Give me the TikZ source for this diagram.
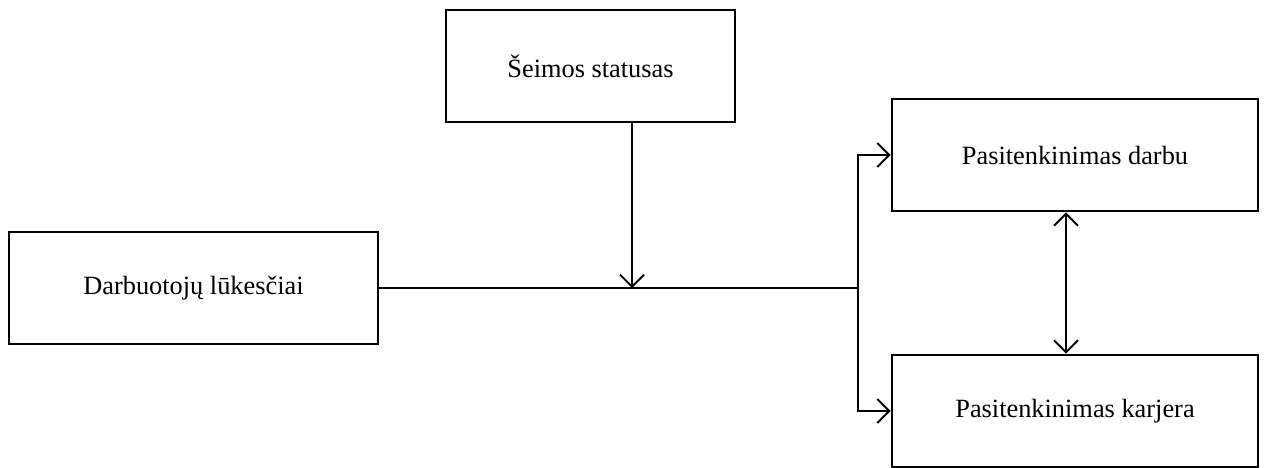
\documentclass[tikz,border=0pt]{standalone}
\usepackage{fontspec}
\setmainfont{Liberation Serif}
\usetikzlibrary{arrows.meta}

\begin{document}
\begin{tikzpicture}[x=0.02cm,y=-0.02cm,
    >={Straight Barb[length=0.24cm,width=0.48cm,line width=1.1pt]},
    every node/.style={draw,line width=1.6pt,minimum height=2.24cm,inner sep=2pt,font=\fontsize{15}{18}\selectfont},
    strele/.style={line width=1.1pt,->},
    linija/.style={line width=1.1pt}]
      \useasboundingbox (0,0) rectangle (1268,467);
      % Blokai
      \node[minimum width=5.78cm] (seimos) at (590.5,66) {Šeimos statusas};
      \node[minimum width=7.38cm] (lukesciai) at (193.5,288) {Darbuotojų lūkesčiai};
      \node[minimum width=7.32cm] (darbu) at (1075,155) {Pasitenkinimas darbu};
      \node[minimum width=7.32cm] (karjera) at (1075,411) {Pasitenkinimas karjera};
      % Taskai
      \coordinate (vidurys) at (632,288);
      \coordinate (sakotis) at (858,288);
      \coordinate (dviguba) at (1066,0);
      % Rodykles
      \draw[linija] (lukesciai.east) -- (sakotis);
      \draw[strele] (seimos.south -| vidurys) -- (vidurys);
      \draw[strele] (sakotis) |- (darbu.west);
      \draw[strele] (sakotis) |- (karjera.west);
      \draw[linija,<->] (darbu.south -| dviguba) -- (karjera.north -| dviguba);
    \end{tikzpicture}
\end{document}
